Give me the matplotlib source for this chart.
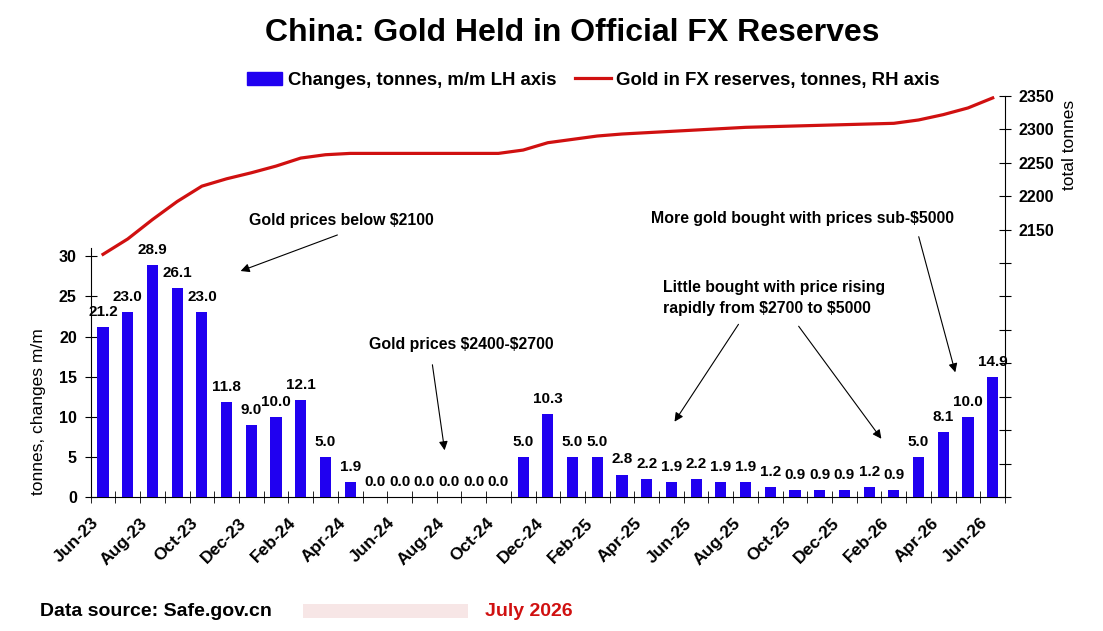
import matplotlib.pyplot as plt
from matplotlib.patches import Patch, Rectangle
from matplotlib.lines import Line2D
from matplotlib.transforms import ScaledTranslation

plt.rcParams['font.family'] = ['Liberation Sans', 'DejaVu Sans']

# Monthly data, Jun-23 .. Jun-26
months = ['Jun-23', 'Jul-23', 'Aug-23', 'Sep-23', 'Oct-23', 'Nov-23', 'Dec-23',
          'Jan-24', 'Feb-24', 'Mar-24', 'Apr-24', 'May-24', 'Jun-24', 'Jul-24',
          'Aug-24', 'Sep-24', 'Oct-24', 'Nov-24', 'Dec-24', 'Jan-25', 'Feb-25',
          'Mar-25', 'Apr-25', 'May-25', 'Jun-25', 'Jul-25', 'Aug-25', 'Sep-25',
          'Oct-25', 'Nov-25', 'Dec-25', 'Jan-26', 'Feb-26', 'Mar-26', 'Apr-26',
          'May-26', 'Jun-26']
changes = [21.2, 23.0, 28.9, 26.1, 23.0, 11.8, 9.0,
           10.0, 12.1, 5.0, 1.9, 0.0, 0.0, 0.0,
           0.0, 0.0, 0.0, 5.0, 10.3, 5.0, 5.0,
           2.8, 2.2, 1.9, 2.2, 1.9, 1.9, 1.2,
           0.9, 0.9, 0.9, 1.2, 0.9, 5.0, 8.1,
           10.0, 14.9]
total = [2113, 2136, 2165, 2192, 2215, 2226, 2235,
         2245, 2257, 2262, 2264, 2264, 2264, 2264,
         2264, 2264, 2264, 2269, 2280, 2285, 2290,
         2293, 2295, 2297, 2299, 2301, 2303, 2304,
         2305, 2306, 2307, 2308, 2309, 2314, 2322,
         2332, 2347]

bar_color = '#2000f0'
line_color = '#d01010'

fig = plt.figure(figsize=(11.03, 6.31), dpi=100)
ax = fig.add_axes([0.0822, 0.2124, 0.9112 - 0.0822, 0.848 - 0.2124])
ax2 = ax.twinx()
ax.set_zorder(2)
ax.patch.set_visible(False)

x = list(range(len(months)))
ax.bar(x, changes, width=0.45, color=bar_color, zorder=3)
for i, v in enumerate(changes):
    ax.text(i, v + 1.0, f'{v:.1f}', ha='center', va='bottom',
            fontsize=11, fontweight='bold')

ax2.plot(x, total, color=line_color, lw=2.3)

# left axis
ax.set_xlim(-0.5, len(months) - 0.5)
ax.set_ylim(0, 50)
ax.set_yticks(range(0, 31, 5))
ax.tick_params(axis='y', direction='inout', length=8, labelsize=11.5, pad=6)
for lab in ax.get_yticklabels():
    lab.set_fontweight('bold')
ax.spines['left'].set_bounds(0, 31)
ax.spines['top'].set_visible(False)
ax.spines['right'].set_visible(False)

ax.set_xticks(x[::2])
ax.set_xticklabels(months[::2], rotation=45, ha='right', va='center',
                   rotation_mode='anchor', fontsize=12.5, fontweight='bold')
ax.tick_params(axis='x', which='major', length=0, pad=17)
shift = ScaledTranslation(-7 / 100, 0, fig.dpi_scale_trans)
for lab in ax.get_xticklabels():
    lab.set_transform(lab.get_transform() + shift)
ax.set_xticks([i + 0.5 for i in range(-1, len(months))], minor=True)
ax.tick_params(axis='x', which='minor', direction='inout', length=8)

# right axis
ax2.set_ylim(1750, 2350)
ax2.set_yticks(range(1750, 2351, 50))
ax2.set_yticklabels([str(t) if t >= 2150 else '' for t in range(1750, 2351, 50)],
                    fontsize=11.5, fontweight='bold')
ax2.tick_params(axis='y', direction='inout', length=8, pad=6)
ax2.spines['top'].set_visible(False)
ax2.spines['left'].set_visible(False)
ax2.spines['bottom'].set_visible(False)

fig.text(0.035, 0.347, 'tonnes, changes m/m', rotation=90, ha='center',
         va='center', fontsize=12.5)
fig.text(0.970, 0.77, 'total tonnes', rotation=90, ha='center',
         va='center', fontsize=12.5)

fig.text(0.519, 0.947, 'China: Gold Held in Official FX Reserves',
         ha='center', va='center', fontsize=23, fontweight='bold')

handles = [Patch(color=bar_color), Line2D([], [], color=line_color, lw=2.3)]
labels = ['Changes, tonnes, m/m LH axis', 'Gold in FX reserves, tonnes, RH axis']
leg = fig.legend(handles, labels, loc='center', bbox_to_anchor=(0.538, 0.873),
                 ncol=2, frameon=False, handlelength=1.9, handletextpad=0.3,
                 columnspacing=1.0, prop={'size': 13.4, 'weight': 'bold'})

# annotations
arrow = dict(arrowstyle='-|>', color='black', lw=0.8, mutation_scale=13)
fs = 11.4


def pix(px, py):
    return (px / 1103, 1 - py / 631)


ax.annotate('', xy=pix(238, 272), xytext=pix(340, 234),
            xycoords='figure fraction', textcoords='figure fraction', arrowprops=arrow)
fig.text(*pix(249, 220), 'Gold prices below \\$2100', ha='left', va='center',
         fontsize=fs, fontweight='bold')

ax.annotate('', xy=pix(445, 453), xytext=pix(432, 362),
            xycoords='figure fraction', textcoords='figure fraction', arrowprops=arrow)
fig.text(*pix(369, 345), 'Gold prices \\$2400-\\$2700', ha='left', va='center',
         fontsize=fs, fontweight='bold')

fig.text(*pix(663, 298), 'Little bought with price rising\nrapidly from \\$2700 to \\$5000',
         ha='left', va='center', fontsize=fs, fontweight='bold', linespacing=1.45)
ax.annotate('', xy=pix(673, 424), xytext=pix(740, 322),
            xycoords='figure fraction', textcoords='figure fraction', arrowprops=arrow)
ax.annotate('', xy=pix(883, 441), xytext=pix(797, 324),
            xycoords='figure fraction', textcoords='figure fraction', arrowprops=arrow)

fig.text(*pix(651, 219), 'More gold bought with prices sub-\\$5000', ha='left',
         va='center', fontsize=fs, fontweight='bold')
ax.annotate('', xy=pix(956, 375), xytext=pix(918, 234),
            xycoords='figure fraction', textcoords='figure fraction', arrowprops=arrow)

fig.text(*pix(40, 611), 'Data source: Safe.gov.cn', ha='left', va='center',
         fontsize=14, fontweight='bold')
fig.text(*pix(485, 611), 'July 2026', ha='left', va='center',
         fontsize=14, fontweight='bold', color='#d01010')
# faint smudge where the original has a blurred mark
fig.patches.append(Rectangle(pix(303, 618), 165 / 1103, 14 / 631,
                             transform=fig.transFigure, color='#f7e6e6', lw=0))

plt.savefig('out.png', dpi=100)
